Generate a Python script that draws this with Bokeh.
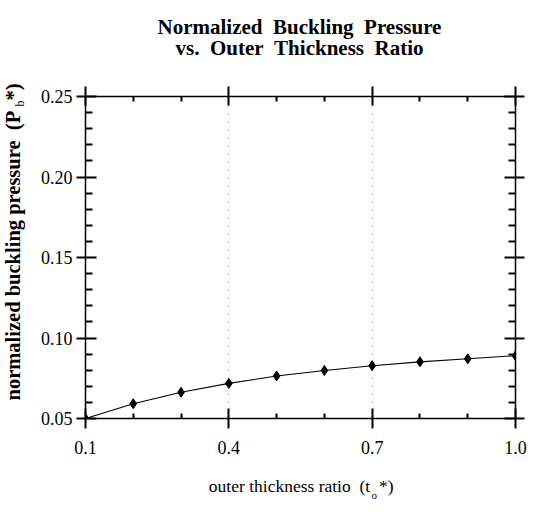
import math
from bokeh.plotting import figure
from bokeh.models import (Range1d, LinearAxis, FixedTicker, PrintfTickFormatter,
                          Label, ColumnDataSource, Grid)
from bokeh.embed import file_html
from bokeh.resources import INLINE

# Outer thickness ratio and normalized buckling pressure
t_o = [0.1, 0.2, 0.3, 0.4, 0.5, 0.6, 0.7, 0.8, 0.9, 1.0]
p_b = [0.0500, 0.0592, 0.0663, 0.0718, 0.0764, 0.0798, 0.0828, 0.0852, 0.0871, 0.0890]

x_major = [0.1, 0.4, 0.7, 1.0]
x_minor = [0.2, 0.3, 0.5, 0.6, 0.8, 0.9]
y_major = [0.05, 0.10, 0.15, 0.20, 0.25]
y_minor = [0.06, 0.07, 0.08, 0.09, 0.11, 0.12, 0.13, 0.14, 0.16, 0.17, 0.18,
           0.19, 0.21, 0.22, 0.23, 0.24]

NB = "\u00a0"  # non-collapsing space
title_lines = [f"Normalized{NB}{NB}Buckling{NB}{NB}Pressure",
               f"vs.{NB}{NB}Outer{NB}{NB}Thickness{NB}{NB}Ratio"]
# axis titles: text with a gap, and the subscript that sits in the gap
x_label = (f"outer thickness ratio{NB}{NB}(t{NB}{NB}*)", "o")
y_label = (f"normalized buckling pressure{NB}{NB}(P{NB}{NB}*)", "b")

SERIF = "Liberation Serif"

p = figure(width=535, height=512, output_backend="svg", toolbar_location=None,
           x_range=Range1d(0.1, 1.0), y_range=Range1d(0.05, 0.25),
           x_axis_type=None, y_axis_type=None,
           min_border_left=85, min_border_right=20, min_border_top=96,
           min_border_bottom=94)
p.outline_line_color = None
p.background_fill_color = "white"
p.border_fill_color = "white"


def make_axis(ticks, minor, fmt, show_labels, tick_in, tick_out, minor_in):
    ax = LinearAxis(ticker=FixedTicker(ticks=ticks, minor_ticks=minor),
                    formatter=PrintfTickFormatter(format=fmt))
    ax.axis_line_color = "black"
    ax.axis_line_width = 1.5
    ax.major_tick_line_color = "black"
    ax.major_tick_line_width = 2
    ax.minor_tick_line_color = "black"
    ax.minor_tick_line_width = 2
    ax.major_tick_in = tick_in
    ax.major_tick_out = tick_out
    ax.minor_tick_in = minor_in
    ax.minor_tick_out = 0
    ax.major_label_text_font = SERIF
    if show_labels:
        ax.major_label_text_font_size = "18px"
        ax.major_label_text_color = "black"
    else:
        ax.major_label_text_font_size = "0px"
        ax.major_label_text_color = None
        ax.major_label_standoff = 0
    return ax

bottom = make_axis(x_major, x_minor, "%.1f", True, 10, 10, 5)
bottom.major_label_standoff = 12
top = make_axis(x_major, x_minor, "%.1f", False, 9, 10, 5)
left = make_axis(y_major, y_minor, "%.2f", True, 11, 9, 7)
left.major_label_standoff = 4
right = make_axis(y_major, y_minor, "%.2f", False, 11, 9, 7)
p.add_layout(bottom, "below")
p.add_layout(top, "above")
p.add_layout(left, "left")
p.add_layout(right, "right")

# sparse dotted guides at the interior major x ticks
p.add_layout(Grid(dimension=0, ticker=FixedTicker(ticks=[0.4, 0.7]),
                  grid_line_color="#707070", grid_line_dash="1 7",
                  grid_line_width=1))

src = ColumnDataSource(data=dict(t=t_o, pb=p_b))
p.line("t", "pb", source=src, line_color="black", line_width=1.1)
p.scatter("t", "pb", source=src, marker="diamond", size=10,
          fill_color="black", line_color="black")


def canvas_text(place, x, y, text, size, bold=False, align="left", angle=0.0):
    # side-panel labels are drawn unclipped, positioned in canvas pixels
    p.add_layout(Label(x=x, y=y, x_units="canvas", y_units="canvas", text=text,
                       angle=angle, text_font=SERIF, text_font_size=f"{size}px",
                       text_font_style="bold" if bold else "normal",
                       text_align=align, text_baseline="alphabetic",
                       text_color="black"), place)

# title, two centred lines
canvas_text("above", 299, 26, title_lines[0], 21, bold=True, align="center")
canvas_text("above", 299, 47, title_lines[1], 21, bold=True, align="center")

# x-axis title and its subscript
canvas_text("below", 393, 485, x_label[0], 17.5, align="right")
canvas_text("below", 371, 494, x_label[1], 11)

# y-axis title, rotated to read upwards, and its subscript
up = math.pi / 2
canvas_text("left", 12, 83, y_label[0], 20.5, bold=True, align="right", angle=up)
canvas_text("above", 19, 106, y_label[1], 12, angle=up)

open("out.html", "w").write(file_html(p, INLINE))
